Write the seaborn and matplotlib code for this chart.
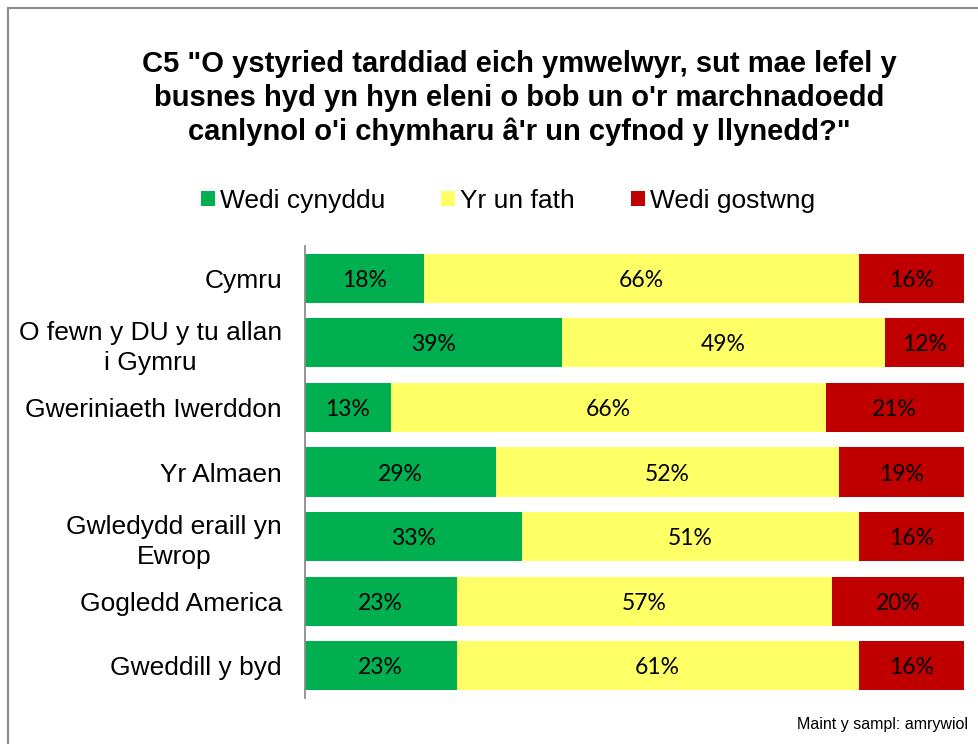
import matplotlib
matplotlib.use("Agg")
import matplotlib.pyplot as plt
from matplotlib.patches import Patch, Rectangle
import seaborn as sns
import pandas as pd
import numpy as np

categories = ["Cymru", "O fewn y DU y tu allan\ni Gymru", "Gweriniaeth Iwerddon",
              "Yr Almaen", "Gwledydd eraill yn\nEwrop", "Gogledd America", "Gweddill y byd"]
wedi_cynyddu = [18, 39, 13, 29, 33, 23, 23]
yr_un_fath = [66, 49, 66, 52, 51, 57, 61]
wedi_gostwng = [16, 12, 21, 19, 16, 20, 16]
series_names = ["Wedi cynyddu", "Yr un fath", "Wedi gostwng"]
colors = ["#00B050", "#FFFF66", "#C00000"]
title = 'C5 "O ystyried tarddiad eich ymwelwyr, sut mae lefel y\nbusnes hyd yn hyn eleni o bob un o\'r marchnadoedd\ncanlynol o\'i chymharu â\'r un cyfnod y llynedd?"'
footnote = "Maint y sampl: amrywiol"

sns.set_theme(style="white")
plt.rcParams["font.family"] = ["Liberation Sans", "DejaVu Sans"]
plt.rcParams["text.color"] = "black"
plt.rcParams["ytick.color"] = "black"
plt.rcParams["axes.labelcolor"] = "black"

W, H = 979, 744
fig = plt.figure(figsize=(W / 100, H / 100), dpi=100)
ax = fig.add_axes([305 / W, 1 - 698 / H, (964 - 305) / W, (698 - 246) / H])

df = pd.DataFrame({
    "cat": categories,
    "g": wedi_cynyddu,
    "y": yr_un_fath,
    "r": wedi_gostwng,
})
df["gy"] = df["g"] + df["y"]
df["gyr"] = df["gy"] + df["r"]

for col, c in [("gyr", colors[2]), ("gy", colors[1]), ("g", colors[0])]:
    sns.barplot(data=df, x=col, y="cat", order=categories, orient="h", color=c,
                width=0.76, errorbar=None, linewidth=0, saturation=1, ax=ax)

label_font = ["Lato", "DejaVu Sans"]
for i in range(len(categories)):
    starts = [0, wedi_cynyddu[i], wedi_cynyddu[i] + yr_un_fath[i]]
    vals = [wedi_cynyddu[i], yr_un_fath[i], wedi_gostwng[i]]
    for s, v in zip(starts, vals):
        ax.text(s + v / 2, i, f"{v}%", ha="center", va="center_baseline",
                fontsize=16.5, family=label_font, color="black")

ax.set_xlim(0, 100)
ax.set_ylim(len(categories) - 0.5, -0.5)
ax.set_xlabel("")
ax.set_ylabel("")
ax.set_xticks([])
ax.tick_params(axis="y", length=0, pad=16.5, labelsize=19, labelcolor="black")
for lab in ax.get_yticklabels():
    lab.set_multialignment("center")
    lab.set_linespacing(1.32)
for s in ["top", "right", "bottom"]:
    ax.spines[s].set_visible(False)
ax.spines["left"].set_color("#8C8C8C")
ax.spines["left"].set_linewidth(1.3)

fig.text(519 / W, 1 - 98 / H, title, ha="center", va="center", fontsize=21,
         fontweight="bold", linespacing=1.28)

handles = [Patch(facecolor=c, edgecolor="none", label=n) for c, n in zip(colors, series_names)]
fig.legend(handles=handles, loc="center", bbox_to_anchor=(508 / W, 1 - 201 / H), ncol=3,
           frameon=False, fontsize=19, handlelength=0.53, handleheight=0.53,
           handletextpad=0.2, columnspacing=2.1, borderpad=0)

fig.text(968 / W, 1 - 729 / H, footnote, ha="right", va="baseline", fontsize=11.5)

fig.patches.append(Rectangle((8 / W, -0.1), 1.2, (H - 8) / H + 0.1, transform=fig.transFigure,
                             fill=False, edgecolor="#8C8C8C", linewidth=1.5, figure=fig))

fig.savefig("out.png", dpi=100)
